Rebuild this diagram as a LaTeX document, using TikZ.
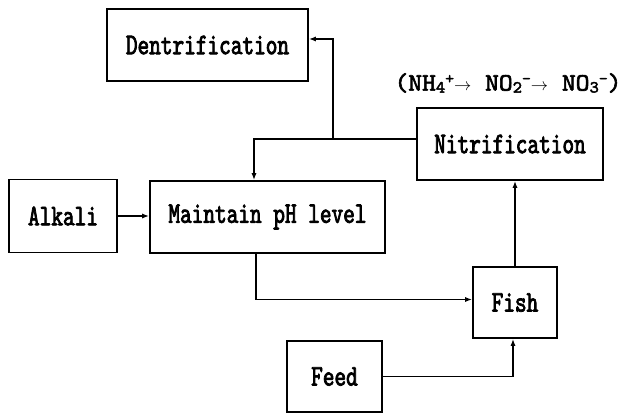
\documentclass[tikz,border=0pt]{standalone}
\usepackage{fontspec}
\usetikzlibrary{arrows.meta,calc}
\newfontfamily\diagfont[FakeStretch=0.74,FakeBold=2.5]{lmmono10-regular.otf}
\newfontfamily\eqfont[FakeStretch=1.05,FakeBold=2.5]{lmmono10-regular.otf}
\newcommand\dsub[1]{\raisebox{-2pt}{\fontsize{17}{17}\selectfont #1}}
\newcommand\dsup[1]{\raisebox{7pt}{\fontsize{16}{16}\selectfont #1}}
\newcommand\darr{{\fontsize{19}{19}\selectfont$\rightarrow$}}
\begin{document}
\begin{tikzpicture}[x=1pt,y=1pt,
  box/.style={draw,line width=1.6pt,minimum height=72pt,inner sep=0pt,
    font=\diagfont\fontsize{30}{30}\selectfont},
  conn/.style={line width=1.3pt},
  arr/.style={conn,-{Latex[length=7pt,width=5pt]}}]
\useasboundingbox (0,0) rectangle (626,-413);
\node[box,minimum width=201pt] (Dent) at (207.5,-45) {Dentrification};
\node[box,minimum width=186pt] (Nitri) at (510,-144) {Nitrification};
\node[box,minimum width=108pt,minimum height=73pt] (Alkali) at (63,-216) {Alkali};
\node[box,minimum width=235pt] (Maint) at (267.5,-217) {Maintain pH level};
\node[box,minimum width=84pt,minimum height=71pt] (Fish) at (515,-302.5) {Fish};
\node[box,minimum width=95pt,minimum height=71pt] (Feed) at (334.5,-376.5) {Feed};
\node[font=\eqfont\fontsize{25}{25}\selectfont,inner sep=0pt] (eq) at (508,-83)
  {(NH\dsub{4}\dsup{+}\darr{} NO\dsub{2}\dsup{-}\darr{} NO\dsub{3}\dsup{-})};
\coordinate (tap) at (333,-139);
\draw[arr] (Nitri.west |- tap) -| ([xshift=-13.5pt]Maint.north);
\draw[arr] (tap) |- ([yshift=6pt]Dent.east);
\draw[arr] (Alkali.east) -- (Alkali.east -| Maint.west);
\draw[arr] ([xshift=-11.5pt]Maint.south) |- ([yshift=3pt]Fish.west);
\draw[arr] (Feed.east) -| ([xshift=-2pt]Fish.south);
\draw[arr] (Fish.north) -- (Fish.north |- Nitri.south);
\end{tikzpicture}
\end{document}
